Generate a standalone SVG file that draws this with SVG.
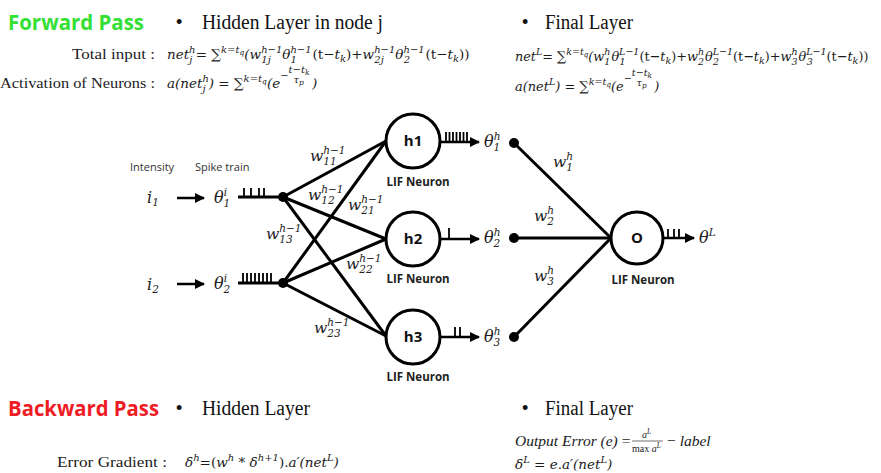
<svg xmlns="http://www.w3.org/2000/svg" width="881" height="473" viewBox="0 0 881 473">
<defs>
<marker id="ah" viewBox="0 0 10 10" refX="9" refY="5" markerWidth="4" markerHeight="4" orient="auto" markerUnits="strokeWidth"><path d="M0,0 L10,5 L0,10 z" fill="#000"/></marker>
<style>
.hd{font-family:"Open Sans","Liberation Sans",sans-serif;font-weight:bold;font-size:21px}
.sec{font-family:"Liberation Serif","DejaVu Serif",serif;font-size:20px;fill:#111}
.bul{font-family:"Liberation Sans",sans-serif;font-size:18px;fill:#111}
.lbl{font-family:"Liberation Serif","DejaVu Serif",serif;font-size:15px;fill:#222}
.f{font-family:"DejaVu Serif",serif;font-style:italic;font-size:13.5px;fill:#1a1a1a}
.g{font-family:"Liberation Serif",serif;font-style:italic;font-size:15.5px;fill:#1a1a1a}
.u{font-style:normal}
.sp{font-size:10px}
.xs{font-size:7.5px}
.w{font-family:"DejaVu Serif",serif;font-style:italic;font-size:15.5px;fill:#222}
.ws{font-size:10.5px}
.th{font-family:"DejaVu Serif",serif;font-style:italic;font-size:16px;fill:#222}
.small{font-family:"Open Sans","Liberation Sans",sans-serif;font-size:11px;fill:#333}
.lif{font-family:"Open Sans","Liberation Sans",sans-serif;font-weight:bold;font-size:11.5px;fill:#222;text-anchor:middle}
.nl{font-family:"Open Sans","Liberation Sans",sans-serif;font-weight:bold;font-size:15px;fill:#111;text-anchor:middle}
.node{fill:#fff;stroke:#000;stroke-width:3}
.ln{stroke:#000;stroke-width:3;fill:none}
.ar{stroke:#000;stroke-width:2.5;fill:none;marker-end:url(#ah)}
.sk{stroke:#000;stroke-width:1.8;fill:none}
.dot{fill:#000}
</style>
</defs>
<rect width="881" height="473" fill="#fff"/>

<g id="headers">
<text class="hd" x="8" y="30" fill="#33e033" textLength="136" lengthAdjust="spacingAndGlyphs">Forward Pass</text>
<text class="bul" x="176" y="28">•</text>
<text class="sec" x="202" y="29" textLength="181" lengthAdjust="spacingAndGlyphs">Hidden Layer in node j</text>
<text class="bul" x="522" y="28">•</text>
<text class="sec" x="545" y="29" textLength="88" lengthAdjust="spacingAndGlyphs">Final Layer</text>
<text class="hd" x="8" y="416" fill="#ee1c24" textLength="151" lengthAdjust="spacingAndGlyphs">Backward Pass</text>
<text class="bul" x="176" y="414">•</text>
<text class="sec" x="202" y="415" textLength="108" lengthAdjust="spacingAndGlyphs">Hidden Layer</text>
<text class="bul" x="522" y="414">•</text>
<text class="sec" x="545" y="415" textLength="88" lengthAdjust="spacingAndGlyphs">Final Layer</text>
</g>

<g id="forward-formulas">
<text class="lbl" x="72" y="59" textLength="83" lengthAdjust="spacingAndGlyphs">Total input :</text>
<text class="lbl" x="0" y="88" textLength="155" lengthAdjust="spacingAndGlyphs">Activation of Neurons :</text>
<text class="f" x="167" y="59">net<tspan class="sp" dy="-6">h</tspan><tspan class="sp" dx="-6.4" dy="10">j</tspan><tspan class="u" dx="3.5" dy="-4">= ∑</tspan><tspan class="sp" dy="-6">k=t</tspan><tspan class="xs" dy="2">q</tspan><tspan dy="4">(w</tspan><tspan class="sp" dy="-6">h−1</tspan><tspan class="sp" dx="-21" dy="10">1j</tspan><tspan dx="11.5" dy="-4">θ</tspan><tspan class="sp" dy="-6">h−1</tspan><tspan class="sp" dx="-21" dy="10">1</tspan><tspan class="u" dx="15.5" dy="-4">(t−</tspan>t<tspan class="sp" dy="3">k</tspan><tspan class="u" dy="-3">)+</tspan>w<tspan class="sp" dy="-6">h−1</tspan><tspan class="sp" dx="-21" dy="10">2j</tspan><tspan dx="11.5" dy="-4">θ</tspan><tspan class="sp" dy="-6">h−1</tspan><tspan class="sp" dx="-21" dy="10">2</tspan><tspan class="u" dx="15.5" dy="-4">(t−</tspan>t<tspan class="sp" dy="3">k</tspan><tspan class="u" dy="-3">))</tspan></text>
<text class="f" x="167" y="88">a(net<tspan class="sp" dy="-6">h</tspan><tspan class="sp" dx="-6.4" dy="10">j</tspan><tspan dx="3.2" dy="-4">)</tspan><tspan class="u"> = ∑</tspan><tspan class="sp" dy="-6">k=t</tspan><tspan class="xs" dy="2">q</tspan><tspan dy="4">(e</tspan><tspan class="sp" dy="-9">−</tspan><tspan class="sp" dy="-6">t−t</tspan><tspan class="xs" dy="2">k</tspan><tspan class="sp" dx="-16" dy="8">τ</tspan><tspan class="xs" dy="2">p</tspan><tspan dx="8" dy="3">)</tspan></text>

<text class="f" x="515" y="61" transform="translate(515,0) scale(0.95,1) translate(-515,0)">net<tspan class="sp" dy="-6">L</tspan><tspan class="u" dy="6">= ∑</tspan><tspan class="sp" dy="-6">k=t</tspan><tspan class="xs" dy="2">q</tspan><tspan dy="4">(w</tspan><tspan class="sp" dy="-6">h</tspan><tspan class="sp" dx="-6.4" dy="10">1</tspan><tspan dx="1" dy="-4">θ</tspan><tspan class="sp" dy="-6">L−1</tspan><tspan class="sp" dx="-21" dy="10">1</tspan><tspan class="u" dx="14.6" dy="-4">(t−</tspan>t<tspan class="sp" dy="3">k</tspan><tspan class="u" dy="-3">)+</tspan>w<tspan class="sp" dy="-6">h</tspan><tspan class="sp" dx="-6.4" dy="10">2</tspan><tspan dx="1" dy="-4">θ</tspan><tspan class="sp" dy="-6">L−1</tspan><tspan class="sp" dx="-21" dy="10">2</tspan><tspan class="u" dx="14.6" dy="-4">(t−</tspan>t<tspan class="sp" dy="3">k</tspan><tspan class="u" dy="-3">)+</tspan>w<tspan class="sp" dy="-6">h</tspan><tspan class="sp" dx="-6.4" dy="10">3</tspan><tspan dx="1" dy="-4">θ</tspan><tspan class="sp" dy="-6">L−1</tspan><tspan class="sp" dx="-21" dy="10">3</tspan><tspan class="u" dx="14.6" dy="-4">(t−</tspan>t<tspan class="sp" dy="3">k</tspan><tspan class="u" dy="-3">))</tspan></text>
<text class="f" x="515" y="91" transform="translate(515,0) scale(0.96,1) translate(-515,0)">a(net<tspan class="sp" dy="-6">L</tspan><tspan dy="6">)</tspan><tspan class="u"> = ∑</tspan><tspan class="sp" dy="-6">k=t</tspan><tspan class="xs" dy="2">q</tspan><tspan dy="4">(e</tspan><tspan class="sp" dy="-9">−</tspan><tspan class="sp" dy="-6">t−t</tspan><tspan class="xs" dy="2">k</tspan><tspan class="sp" dx="-16" dy="8">τ</tspan><tspan class="xs" dy="2">p</tspan><tspan dx="8" dy="3">)</tspan></text>
</g>

<g id="backward-formulas">
<text class="lbl" x="57" y="467" textLength="110" lengthAdjust="spacingAndGlyphs">Error Gradient :</text>
<text class="f" x="185" y="467">δ<tspan class="sp" dy="-6">h</tspan><tspan class="u" dy="6">=(</tspan>w<tspan class="sp" dy="-6">h</tspan><tspan class="u" dy="6"> * </tspan>δ<tspan class="sp" dy="-6">h+1</tspan><tspan class="u" dy="6">).</tspan>a′(net<tspan class="sp" dy="-6">L</tspan><tspan dy="6">)</tspan></text>
<text class="g" x="515" y="446">Output Error (e) <tspan class="u">=</tspan></text>
<text class="g sp" x="642" y="438">a<tspan class="xs" dy="-4">L</tspan></text>
<line x1="632" y1="441" x2="663" y2="441" stroke="#333" stroke-width="0.7"/>
<text class="g sp" x="632" y="452"><tspan class="u">max</tspan> a<tspan class="xs" dy="-4">L</tspan></text>
<text class="g" x="667" y="446"><tspan class="u">−</tspan> label</text>
<text class="f" x="515" y="469">δ<tspan class="sp" dy="-6">L</tspan><tspan class="u" dy="6"> = </tspan>e.a′(net<tspan class="sp" dy="-6">L</tspan><tspan dy="6">)</tspan></text>
</g>

<g id="connectors">
<line class="ar" x1="177" y1="198" x2="204" y2="198"/>
<line class="ar" x1="177" y1="284" x2="204" y2="284"/>
<line class="ln" x1="238" y1="197" x2="283" y2="197"/>
<line class="ln" x1="238" y1="283" x2="283" y2="283"/>
<path class="sk" d="M244,188V197M251,188V197M259,188V197M264,188V197"/>
<path class="sk" d="M243,273V283M247,273V283M251,273V283M255,273V283M259,273V283M263,273V283M267,273V283M271,273V283"/>
<line class="ln" x1="283" y1="197" x2="386" y2="141"/>
<line class="ln" x1="283" y1="197" x2="386" y2="239"/>
<line class="ln" x1="283" y1="197" x2="386" y2="336"/>
<line class="ln" x1="283" y1="283" x2="386" y2="141"/>
<line class="ln" x1="283" y1="283" x2="386" y2="239"/>
<line class="ln" x1="283" y1="283" x2="386" y2="336"/>
<line class="ar" x1="440" y1="142" x2="479" y2="142"/>
<line class="ar" x1="440" y1="239" x2="479" y2="239"/>
<line class="ar" x1="440" y1="337" x2="479" y2="337"/>
<path class="sk" d="M446,132V142M449.5,132V142M453,132V142M456.5,132V142M460,132V142M463.5,132V142M467,132V142"/>
<path class="sk" d="M449,228V239"/>
<path class="sk" d="M455,327V337M460,327V337"/>
<line class="ln" x1="514" y1="143" x2="611" y2="238"/>
<line class="ln" x1="514" y1="238" x2="611" y2="238"/>
<line class="ln" x1="514" y1="337" x2="611" y2="238"/>
<line class="ar" x1="663" y1="238" x2="694" y2="238"/>
<path class="sk" d="M668,229V238M674,229V238M679,229V238"/>
<circle class="dot" cx="283" cy="197" r="5"/>
<circle class="dot" cx="283" cy="283" r="5"/>
<circle class="dot" cx="514" cy="143" r="5"/>
<circle class="dot" cx="514" cy="238" r="5"/>
<circle class="dot" cx="514" cy="337" r="5"/>
</g>

<g id="weights">
<text class="w" x="310" y="161">w<tspan class="ws" dy="-7">h−1</tspan><tspan class="ws" dx="-22.2" dy="11">11</tspan></text>
<text class="w" x="308" y="200">w<tspan class="ws" dy="-7">h−1</tspan><tspan class="ws" dx="-22.2" dy="11">12</tspan></text>
<text class="w" x="348" y="210">w<tspan class="ws" dy="-7">h−1</tspan><tspan class="ws" dx="-22.2" dy="11">21</tspan></text>
<text class="w" x="266" y="239">w<tspan class="ws" dy="-7">h−1</tspan><tspan class="ws" dx="-22.2" dy="11">13</tspan></text>
<text class="w" x="346" y="269">w<tspan class="ws" dy="-7">h−1</tspan><tspan class="ws" dx="-22.2" dy="11">22</tspan></text>
<text class="w" x="314" y="333">w<tspan class="ws" dy="-7">h−1</tspan><tspan class="ws" dx="-22.2" dy="11">23</tspan></text>
<text class="w" x="553" y="167">w<tspan class="ws" dy="-7">h</tspan><tspan class="ws" dx="-6.8" dy="11">1</tspan></text>
<text class="w" x="534" y="221">w<tspan class="ws" dy="-7">h</tspan><tspan class="ws" dx="-6.8" dy="11">2</tspan></text>
<text class="w" x="534" y="281">w<tspan class="ws" dy="-7">h</tspan><tspan class="ws" dx="-6.8" dy="11">3</tspan></text>
</g>

<g id="inputs">
<text class="small" x="130" y="171">Intensity</text>
<text class="small" x="195" y="171">Spike train</text>
<text class="th" x="147" y="203">i<tspan class="ws" dy="3">1</tspan></text>
<text class="th" x="147" y="290">i<tspan class="ws" dy="3">2</tspan></text>
<text class="th" x="214" y="203">θ<tspan class="ws" dy="-7">i</tspan><tspan class="ws" dx="-3.4" dy="11">1</tspan></text>
<text class="th" x="214" y="289">θ<tspan class="ws" dy="-7">i</tspan><tspan class="ws" dx="-3.4" dy="11">2</tspan></text>
</g>

<g id="node-h1">
<circle class="node" cx="413" cy="141" r="27"/>
<text class="nl" x="413" y="146">h1</text>
<text class="lif" x="418" y="186">LIF Neuron</text>
</g>
<g id="node-h2">
<circle class="node" cx="413" cy="239" r="27"/>
<text class="nl" x="413" y="244">h2</text>
<text class="lif" x="418" y="283">LIF Neuron</text>
</g>
<g id="node-h3">
<circle class="node" cx="413" cy="337" r="27"/>
<text class="nl" x="413" y="342">h3</text>
<text class="lif" x="418" y="381">LIF Neuron</text>
</g>
<g id="node-o">
<circle class="node" cx="637" cy="238" r="26"/>
<text class="nl" x="637" y="243">O</text>
<text class="lif" x="643" y="284">LIF Neuron</text>
</g>

<g id="hidden-outputs">
<text class="th" x="484" y="147">θ<tspan class="ws" dy="-7">h</tspan><tspan class="ws" dx="-6.8" dy="11">1</tspan></text>
<text class="th" x="484" y="243">θ<tspan class="ws" dy="-7">h</tspan><tspan class="ws" dx="-6.8" dy="11">2</tspan></text>
<text class="th" x="484" y="342">θ<tspan class="ws" dy="-7">h</tspan><tspan class="ws" dx="-6.8" dy="11">3</tspan></text>
<text class="th" x="699" y="243">θ<tspan class="ws" dy="-7">L</tspan></text>
</g>
</svg>
